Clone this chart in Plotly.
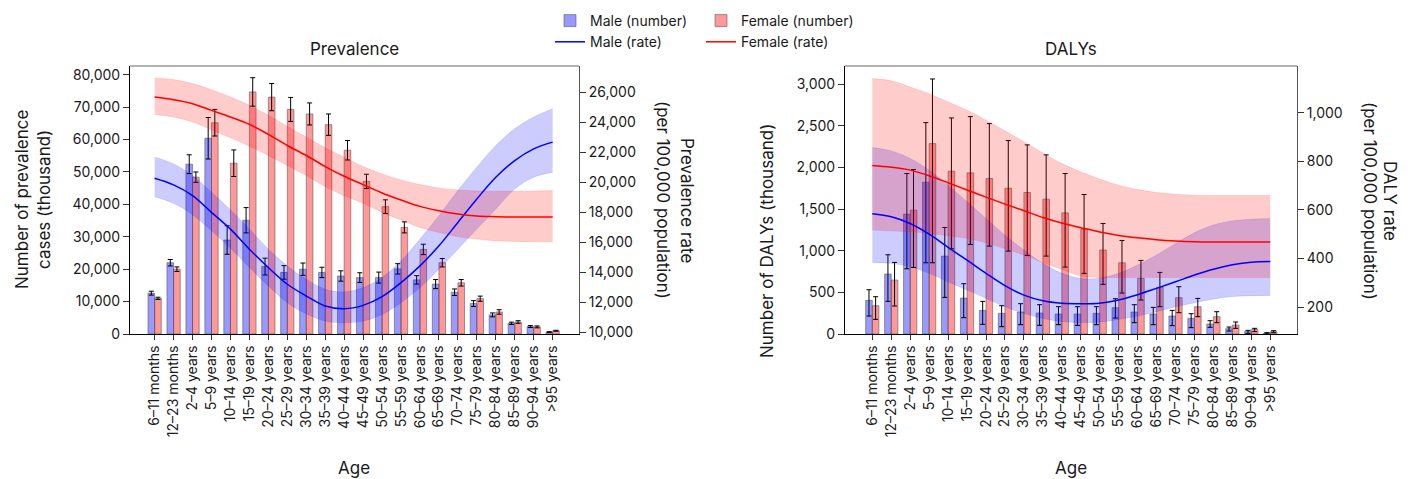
import plotly.graph_objects as go

ages = ["6–11 months", "12–23 months", "2–4 years", "5–9 years", "10–14 years", "15–19 years",
        "20–24 years", "25–29 years", "30–34 years", "35–39 years", "40–44 years", "45–49 years",
        "50–54 years", "55–59 years", "60–64 years", "65–69 years", "70–74 years", "75–79 years",
        "80–84 years", "85–89 years", "90–94 years", ">95 years"]

# Prevalence (thousand)
prev_male = [12600, 22000, 52400, 60400, 29000, 35100, 20800, 19000, 20000, 19000, 17900, 17400,
             17400, 20100, 16700, 15400, 12900, 9400, 5900, 3300, 2300, 600]
prev_male_err = [600, 1000, 2900, 6400, 4400, 3900, 2600, 2100, 1900, 1600, 1600, 1500,
                 1700, 1600, 1300, 1400, 1000, 900, 600, 350, 300, 100]
prev_female = [11000, 20000, 48400, 65200, 52700, 74700, 73100, 69300, 67900, 64600, 56700, 47100,
               39300, 32900, 26100, 22000, 15800, 10900, 6800, 3700, 2200, 1000]
prev_female_err = [350, 700, 1600, 4100, 4100, 4400, 4200, 3700, 3400, 3300, 3000, 2200,
                   2100, 1700, 1600, 1300, 1000, 800, 700, 400, 300, 150]

# Prevalence rate (per 100,000)
prev_rate_male = [20270, 19824, 19110, 17995, 16881, 15543, 14316, 13202, 12421, 11752, 11574, 11797,
                  12377, 13313, 14428, 15766, 17326, 18887, 20337, 21451, 22232, 22678]
prev_rate_male_lo = [19043, 18597, 17839, 16769, 15610, 14316, 13090, 11975, 11239, 10749, 10637, 10749,
                     11195, 11975, 12979, 14205, 15543, 16881, 18218, 19556, 20337, 20671]
prev_rate_male_hi = [21674, 21228, 20448, 19333, 18174, 16881, 15543, 14428, 13536, 12867, 12689, 12979,
                     13647, 14762, 16212, 17772, 19445, 21005, 22455, 23570, 24350, 24907]
prev_rate_female = [25688, 25509, 25242, 24796, 24350, 23859, 23191, 22455, 21786, 21050, 20403, 19846,
                    19289, 18820, 18397, 18107, 17884, 17750, 17706, 17683, 17683, 17683]
prev_rate_female_hi = [26959, 26847, 26580, 26178, 25688, 25130, 24462, 23726, 23012, 22299, 21674, 21050,
                       20560, 20158, 19846, 19623, 19489, 19422, 19400, 19400, 19422, 19445]
prev_rate_female_lo = [24528, 24350, 24016, 23503, 22968, 22410, 21786, 21117, 20448, 19712, 19110, 18597,
                       17995, 17483, 16992, 16658, 16368, 16212, 16100, 16056, 16033, 16033]

# DALYs (thousand)
daly_male = [404, 720, 1440, 1824, 936, 432, 284, 248, 264, 252, 240, 240,
             248, 316, 264, 240, 216, 188, 120, 64, 32, 12]
daly_male_hi = [532, 952, 1928, 2540, 1280, 604, 392, 340, 364, 352, 328, 328,
                328, 424, 352, 320, 284, 244, 160, 84, 44, 16]
daly_male_lo = [216, 392, 784, 856, 440, 196, 116, 88, 112, 104, 112, 104,
                112, 192, 136, 112, 100, 76, 80, 36, 8, 0]
daly_female = [340, 648, 1488, 2288, 1956, 1936, 1868, 1752, 1700, 1620, 1456, 1260,
               1008, 856, 668, 560, 436, 328, 208, 108, 56, 28]
daly_female_hi = [448, 860, 1976, 3064, 2596, 2612, 2528, 2324, 2272, 2152, 1928, 1676,
                  1328, 1124, 884, 740, 568, 428, 268, 144, 68, 40]
daly_female_lo = [176, 336, 800, 856, 1024, 1076, 1056, 996, 944, 936, 804, 728,
                  596, 492, 408, 328, 256, 208, 136, 68, 28, 16]

# DALY rate (per 100,000)
daly_rate_male = [584, 572, 544, 500, 446, 393, 339, 288, 249, 226, 216, 214,
                  216, 229, 251, 277, 304, 332, 356, 374, 385, 388]
daly_rate_male_hi = [857, 843, 812, 764, 702, 634, 565, 496, 435, 380, 339, 318,
                     319, 339, 373, 414, 462, 506, 538, 555, 562, 565]
daly_rate_male_lo = [384, 380, 366, 339, 304, 270, 236, 201, 174, 153, 140, 136,
                     138, 149, 163, 181, 201, 218, 233, 243, 247, 248]
daly_rate_female = [783, 776, 764, 741, 712, 682, 653, 624, 597, 569, 546, 527,
                    509, 495, 485, 477, 472, 469, 468, 468, 468, 468]
daly_rate_female_hi = [1141, 1132, 1107, 1079, 1045, 1011, 970, 926, 881, 835, 791, 757,
                       727, 702, 684, 672, 665, 661, 660, 660, 660, 660]
daly_rate_female_lo = [517, 514, 510, 503, 494, 483, 465, 441, 414, 384, 355, 328,
                       322, 322, 322, 322, 322, 322, 322, 322, 322, 322]

FONT = "Inter"
TXT = "#1a1a1a"
MALE_BAR = "rgba(0,0,255,0.40)"
FEMALE_BAR = "rgba(255,0,0,0.40)"
MALE_BAND = "rgba(0,0,255,0.20)"
FEMALE_BAND = "rgba(255,0,0,0.20)"
BAR_EDGE = dict(color="rgba(80,80,80,0.55)", width=1)

fig = go.Figure()


def bars(xa, ya, y, err_plus, err_minus, color, name, legend, showlegend):
    fig.add_trace(go.Bar(
        x=ages, y=y, xaxis=xa, yaxis=ya, name=name, legend=legend, showlegend=showlegend,
        legendrank=1,
        marker=dict(color=color, line=BAR_EDGE),
        error_y=dict(type="data", symmetric=False, array=err_plus, arrayminus=err_minus,
                     color="black", thickness=1, width=2.5),
    ))


def band(xa, ya, hi, lo, color):
    fig.add_trace(go.Scatter(x=ages, y=hi, xaxis=xa, yaxis=ya, mode="lines",
                             line=dict(width=0.6, color=color, shape="spline"),
                             showlegend=False, hoverinfo="skip"))
    fig.add_trace(go.Scatter(x=ages, y=lo, xaxis=xa, yaxis=ya, mode="lines",
                             line=dict(width=0.6, color=color, shape="spline"),
                             fill="tonexty", fillcolor=color, showlegend=False, hoverinfo="skip"))


def rate_line(xa, ya, y, color, name, legend, showlegend):
    fig.add_trace(go.Scatter(x=ages, y=y, xaxis=xa, yaxis=ya, mode="lines", name=name,
                             legend=legend, showlegend=showlegend, legendrank=2,
                             line=dict(color=color, width=1.5, shape="spline")))


# Prevalence panel
bars("x", "y", prev_male, prev_male_err, prev_male_err, MALE_BAR, "Male (number)", "legend", True)
bars("x", "y", prev_female, prev_female_err, prev_female_err, FEMALE_BAR, "Female (number)", "legend2", True)
band("x", "y2", prev_rate_male_hi, prev_rate_male_lo, MALE_BAND)
band("x", "y2", prev_rate_female_hi, prev_rate_female_lo, FEMALE_BAND)
rate_line("x", "y2", prev_rate_male, "#0000ff", "Male (rate)", "legend", True)
rate_line("x", "y2", prev_rate_female, "#ff0000", "Female (rate)", "legend2", True)

# DALY panel
dm_plus = [h - v for h, v in zip(daly_male_hi, daly_male)]
dm_minus = [v - l for v, l in zip(daly_male, daly_male_lo)]
df_plus = [h - v for h, v in zip(daly_female_hi, daly_female)]
df_minus = [v - l for v, l in zip(daly_female, daly_female_lo)]
bars("x2", "y3", daly_male, dm_plus, dm_minus, MALE_BAR, "Male (number)", "legend", False)
bars("x2", "y3", daly_female, df_plus, df_minus, FEMALE_BAR, "Female (number)", "legend2", False)
band("x2", "y4", daly_rate_male_hi, daly_rate_male_lo, MALE_BAND)
band("x2", "y4", daly_rate_female_hi, daly_rate_female_lo, FEMALE_BAND)
rate_line("x2", "y4", daly_rate_male, "#0000ff", "Male (rate)", "legend", False)
rate_line("x2", "y4", daly_rate_female, "#ff0000", "Female (rate)", "legend2", False)

W, H = 1411, 479
Y0, Y1 = 1 - 334 / H, 1 - 66 / H
XL = [130 / W, 579 / W]
XR = [845 / W, 1297 / W]

tickfont = dict(family=FONT, size=14, color=TXT)
xcommon = dict(type="category", categoryorder="array", categoryarray=ages, tickangle=-90,
               ticks="outside", ticklen=5, tickcolor="#333", showline=True, linecolor="black",
               linewidth=1, showgrid=False, zeroline=False, tickfont=tickfont)
ycommon = dict(ticks="outside", ticklen=6, tickcolor="#333", showline=True, linewidth=1,
               showgrid=False, zeroline=False, tickfont=tickfont, tickformat=",")

legend_common = dict(y=1 - 5 / H, xanchor="left", yanchor="top", orientation="v",
                     traceorder="normal", font=dict(family=FONT, size=14, color=TXT),
                     bgcolor="rgba(0,0,0,0)", tracegroupgap=0)

fig.update_layout(
    width=W, height=H,
    margin=dict(l=0, r=0, t=0, b=0, autoexpand=False),
    plot_bgcolor="white", paper_bgcolor="white",
    font=dict(family=FONT, color=TXT),
    barmode="group", bargap=0.3, bargroupgap=0,
    xaxis=dict(domain=XL, anchor="y", range=[-1.3, 22.39], **xcommon),
    yaxis=dict(domain=[Y0, Y1], anchor="x", range=[0, 82700], dtick=10000, linecolor="black", **ycommon),
    yaxis2=dict(overlaying="y", side="right", anchor="x", range=[9887, 27753], dtick=2000,
                linecolor="#555", **ycommon),
    xaxis2=dict(domain=XR, anchor="y3", range=[-1.44, 22.41], **xcommon),
    yaxis3=dict(domain=[Y0, Y1], anchor="x2", range=[0, 3220], dtick=500, linecolor="black", **ycommon),
    yaxis4=dict(overlaying="y3", side="right", anchor="x2", range=[89, 1193], dtick=200,
                linecolor="#555", **ycommon),
    legend=dict(x=550 / W, **legend_common),
    legend2=dict(x=701 / W, **legend_common),
    shapes=[
        dict(type="line", xref="x domain", yref="y domain", x0=0, x1=1, y0=1, y1=1,
             line=dict(color="#666", width=1)),
        dict(type="line", xref="x2 domain", yref="y3 domain", x0=0, x1=1, y0=1, y1=1,
             line=dict(color="#666", width=1)),
    ],
)


def ann(text, x, y, size=17, angle=0):
    fig.add_annotation(text=text, x=x / W, y=1 - y / H, xref="paper", yref="paper",
                       showarrow=False, textangle=angle, xanchor="center", yanchor="middle",
                       font=dict(family=FONT, size=size, color=TXT))


ann("Prevalence", 354, 49)
ann("DALYs", 1071, 49)
ann("Age", 354, 468)
ann("Age", 1071, 468)
ann("Number of prevalence", 22, 200, angle=-90)
ann("cases (thousand)", 44, 200, angle=-90)
ann("Prevalence rate", 687, 200, angle=90)
ann("(per 100,000 population)", 663, 200, angle=90)
ann("Number of DALYs (thousand)", 767, 241, angle=-90)
ann("DALY rate", 1390, 201, angle=90)
ann("(per 100,000 population)", 1370, 201, angle=90)

fig.write_html("out.html", config={"displayModeBar": False},
               post_script="document.body.style.margin='0';")
